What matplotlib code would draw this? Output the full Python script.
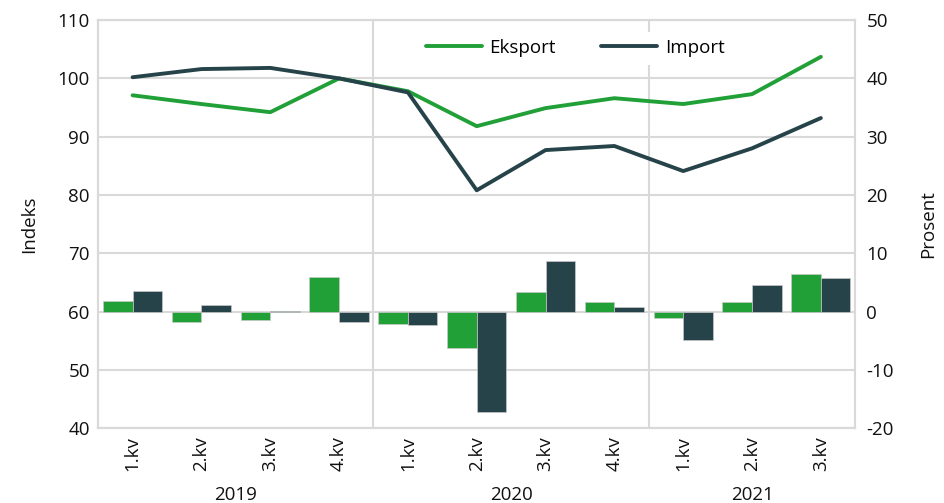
import numpy as np
import matplotlib.pyplot as plt

plt.rcParams['font.family'] = ['Open Sans', 'DejaVu Sans']
plt.rcParams['axes.unicode_minus'] = False

# data
kvartaler = ['1.kv', '2.kv', '3.kv', '4.kv', '1.kv', '2.kv', '3.kv', '4.kv', '1.kv', '2.kv', '3.kv']
aar = ['2019', '2020', '2021']
kv_per_aar = [4, 4, 3]

eksport_indeks = [97.1, 95.6, 94.2, 100.0, 97.8, 91.8, 94.9, 96.6, 95.6, 97.3, 103.7]
import_indeks = [100.2, 101.6, 101.8, 100.0, 97.6, 80.8, 87.7, 88.4, 84.1, 88.0, 93.2]

eksport_endring = [1.8, -1.8, -1.5, 6.0, -2.2, -6.2, 3.4, 1.7, -1.1, 1.7, 6.4]
import_endring = [3.6, 1.2, 0.1, -1.8, -2.3, -17.2, 8.6, 0.7, -4.9, 4.6, 5.7]

gronn = '#21a038'
mork = '#27434a'
grid_farge = '#d9d9d9'
fs = 13.5

fig = plt.figure(figsize=(9.44, 5.03), dpi=100)
ax = fig.add_axes([0.104, 0.149, 0.802, 0.811])
ax2 = ax.twinx()

x = np.arange(len(kvartaler))
b = 0.43

ax2.bar(x - b / 2, eksport_endring, width=b, color=gronn, edgecolor='#c8c8c8', linewidth=0.5, zorder=3)
ax2.bar(x + b / 2, import_endring, width=b, color=mork, edgecolor='#c8c8c8', linewidth=0.5, zorder=3)

ax.set_zorder(ax2.get_zorder() + 1)
ax.patch.set_visible(False)
ax.plot(x, eksport_indeks, color=gronn, lw=2.8, solid_capstyle='round', label='Eksport')
ax.plot(x, import_indeks, color=mork, lw=2.8, solid_capstyle='round', label='Import')

ax.set_xlim(-0.5, len(x) - 0.5)
ax.set_ylim(40, 110)
ax.set_yticks(np.arange(40, 111, 10))
ax2.set_ylim(-20, 50)
ax2.set_yticks(np.arange(-20, 51, 10))

# gridlines and year separators on the bar axis so they sit behind everything
for v in np.arange(-20, 51, 10):
    ax2.axhline(v, color=grid_farge, lw=1.5, zorder=0)
grenser = np.cumsum(kv_per_aar)[:-1] - 0.5
for g in grenser:
    ax2.axvline(g, color=grid_farge, lw=1.5, zorder=0)

for a in (ax, ax2):
    for s in a.spines.values():
        s.set_color(grid_farge)
        s.set_linewidth(1.5)
    a.tick_params(length=0, labelsize=fs, colors='#111111')

ax.set_xticks(x)
ax.set_xticklabels(kvartaler, rotation=90)
ax.tick_params(axis='x', pad=6)
ax.tick_params(axis='y', pad=6)
ax2.tick_params(axis='y', pad=8)

start = 0
for a_, n in zip(aar, kv_per_aar):
    midt = start + (n - 1) / 2
    ax.text(midt, -0.165, a_, transform=ax.get_xaxis_transform(), ha='center', va='center',
            fontsize=fs, color='#111111')
    start += n

ax.set_ylabel('Indeks', fontsize=fs, labelpad=14, color='#111111')
ax2.set_ylabel('Prosent', fontsize=fs, labelpad=18, color='#111111')

leg = ax.legend(loc='upper center', bbox_to_anchor=(0.63, 0.995), ncol=2, frameon=True,
                fontsize=fs, handlelength=3.0, handletextpad=0.4, columnspacing=2.4, borderpad=0.4)
leg.get_frame().set_facecolor('white')
leg.get_frame().set_edgecolor('none')
leg.get_frame().set_alpha(1)

fig.savefig('out.png', dpi=100)
